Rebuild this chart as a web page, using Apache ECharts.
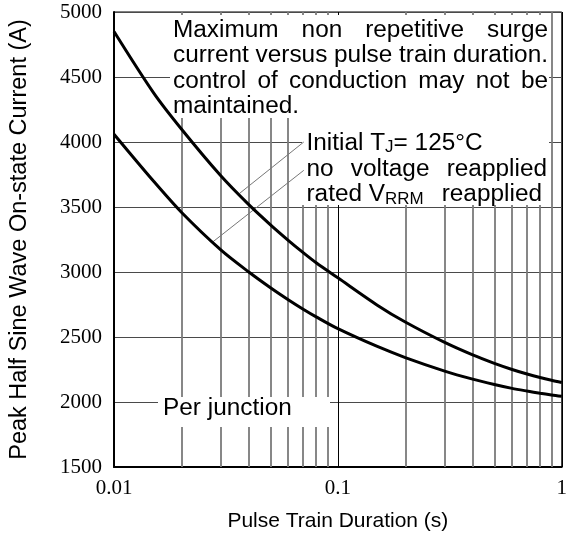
<!DOCTYPE html>
<html>
<head>
<meta charset="utf-8">
<script src="https://cdn.jsdelivr.net/npm/echarts@6/dist/echarts.min.js"></script>
<style>
  html, body { margin: 0; padding: 0; background: #fff; }
  #chart { width: 570px; height: 538px; }
</style>
</head>
<body>
<div id="chart"></div>
<script>
// ---------- data ----------
const durations = [0.01, 0.015, 0.02, 0.03, 0.04, 0.05, 0.06, 0.07, 0.08, 0.1, 0.15, 0.2, 0.3, 0.4, 0.5, 0.6, 0.7, 0.8, 0.9, 1];
const noVoltageReapplied = [4850, 4380, 4100, 3740, 3518, 3363, 3244, 3149, 3071, 2955, 2745, 2615, 2458, 2362, 2297, 2250, 2215, 2188, 2167, 2150];
const ratedVrrmReapplied = [4060, 3700, 3460, 3170, 3000, 2879, 2787, 2714, 2655, 2564, 2427, 2342, 2238, 2176, 2135, 2105, 2084, 2067, 2054, 2044];

const xTickValues = [0.01, 0.1, 1];
const xTickLabels = ['0.01', '0.1', '1'];
const xMinorGrid = [0.02, 0.03, 0.04, 0.05, 0.06, 0.07, 0.08, 0.09, 0.2, 0.3, 0.4, 0.5, 0.6, 0.7, 0.8, 0.9];
const yMin = 1500, yMax = 5000, yStep = 500;

// leader lines from the legend text to the curves
const leaderNoVoltage = [[0.0704, 4000], [0.0364, 3605]];
const leaderRated = [[0.0704, 3782], [0.0277, 3233]];

const xAxisTitle = 'Pulse Train Duration (s)';
const yAxisTitle = 'Peak Half Sine Wave On-state Current (A)';
const note1 = [
  ['Maximum', 'non', 'repetitive', 'surge'],
  ['current', 'versus', 'pulse', 'train', 'duration.'],
  ['control', 'of', 'conduction', 'may', 'not', 'be'],
  ['maintained.']
];
const perJunction = 'Per junction';

// ---------- helpers ----------
const SANS = '"Liberation Sans", Arial, sans-serif';
const SERIF = '"Liberation Serif", "Times New Roman", serif';
const FS = 23, SX = 1.06;
const mctx = document.createElement('canvas').getContext('2d');
function measure(t, fs) { mctx.font = fs + 'px ' + SANS; return mctx.measureText(t).width * SX; }
function textEl(t, x, baseline, fs) {
  return {
    type: 'text', x: x, y: baseline - 0.35 * fs, scaleX: SX, z: 22,
    style: { text: t, font: fs + 'px ' + SANS, fill: '#000', textAlign: 'left', textVerticalAlign: 'middle' }
  };
}
function justified(words, x0, x1, baseline, fs) {
  const ws = words.map(t => measure(t, fs));
  const total = ws.reduce((a, b) => a + b, 0);
  const gap = words.length > 1 ? (x1 - x0 - total) / (words.length - 1) : 0;
  let x = x0; const els = [];
  words.forEach((t, i) => { els.push(textEl(t, x, baseline, fs)); x += ws[i] + gap; });
  return els;
}
function rect(x, y, w, h) {
  return { type: 'rect', shape: { x: x, y: y, width: w, height: h }, z: 20, style: { fill: '#fff' } };
}

const graphics = [];
graphics.push(rect(170, 15, 379, 103));
graphics.push(rect(302, 118, 247, 87));
graphics.push(rect(158, 397, 172, 30));

// note 1 (justified block)
const nb = [38.5, 64, 89.5, 115];
graphics.push(...justified(note1[0], 173, 548, nb[0], FS));
graphics.push(...justified(note1[1], 173, 548, nb[1], FS));
graphics.push(...justified(note1[2], 173, 548, nb[2], FS));
graphics.push(textEl(note1[3][0], 173, nb[3], FS));

// note 2 (legend)
const x2 = 306.5, SUB = 16;
let xx = x2;
graphics.push(textEl('Initial T', xx, 151.7, FS)); xx += measure('Initial T', FS);
graphics.push(textEl('J', xx, 153.5, SUB)); xx += measure('J', SUB);
graphics.push(textEl('= 125°C', xx, 151.7, FS));
graphics.push(...justified(['no', 'voltage', 'reapplied'], x2, 547, 178, FS));
xx = x2;
graphics.push(textEl('rated', xx, 203, FS));
xx += measure('rated ', FS);
graphics.push(textEl('V', xx, 203, FS)); xx += measure('V', FS);
graphics.push(textEl('RRM', xx, 205, SUB));
graphics.push(textEl('reapplied', 542 - measure('reapplied', FS), 203, FS));

graphics.push(textEl(perJunction, 163, 416.7, FS));

// ---------- chart ----------
const chart = echarts.init(document.getElementById('chart'), null, { renderer: 'canvas' });
const toPairs = (xs, ys) => xs.map((x, i) => [x, ys[i]]);

const option = {
  animation: false,
  backgroundColor: '#fff',
  grid: { left: 112, top: 12, width: 450, height: 455, show: true, borderColor: '#000', borderWidth: 1, backgroundColor: 'transparent' },
  xAxis: {
    type: 'log', logBase: 10, min: 0.01, max: 1,
    name: xAxisTitle, nameLocation: 'middle', nameGap: 44,
    nameTextStyle: { fontFamily: SANS, fontSize: 21, color: '#000' },
    axisLine: { show: true, lineStyle: { color: '#000', width: 2 } },
    axisTick: { show: false },
    axisLabel: {
      margin: 11, fontFamily: SERIF, fontSize: 21, color: '#000',
      formatter: v => { const i = xTickValues.findIndex(t => Math.abs(Math.log10(t) - Math.log10(v)) < 1e-6); return i >= 0 ? xTickLabels[i] : ''; }
    },
    splitLine: { show: true, lineStyle: { color: '#000', width: 1 } }
  },
  yAxis: {
    type: 'value', min: yMin, max: yMax, interval: yStep,
    name: yAxisTitle, nameLocation: 'middle', nameGap: 82,
    nameTextStyle: { fontFamily: SANS, fontSize: 23.5, color: '#000' },
    axisLine: { show: true, lineStyle: { color: '#000', width: 2 } },
    axisTick: { show: false },
    axisLabel: { margin: 12, fontFamily: SERIF, fontSize: 21, color: '#000', formatter: v => String(v) },
    splitLine: { show: true, lineStyle: { color: '#4a4a4a', width: 1 } }
  },
  graphic: graphics,
  series: [
    {
      name: 'minor grid', type: 'line', data: [], silent: true, z: 1,
      markLine: {
        silent: true, symbol: ['none', 'none'], label: { show: false }, z: 1,
        lineStyle: { color: '#7a7a7a', width: 1.8, type: 'solid' },
        data: xMinorGrid.map(v => ({ xAxis: v }))
      }
    },
    {
      name: 'no voltage reapplied', type: 'line', data: toPairs(durations, noVoltageReapplied),
      smooth: 0.3, showSymbol: false, z: 30,
      lineStyle: { color: '#000', width: 3 }
    },
    {
      name: 'rated VRRM reapplied', type: 'line', data: toPairs(durations, ratedVrrmReapplied),
      smooth: 0.3, showSymbol: false, z: 30,
      lineStyle: { color: '#000', width: 3 }
    },
    {
      name: 'leader 1', type: 'line', data: leaderNoVoltage, showSymbol: false, z: 25,
      lineStyle: { color: '#777', width: 1 }
    },
    {
      name: 'leader 2', type: 'line', data: leaderRated, showSymbol: false, z: 25,
      lineStyle: { color: '#777', width: 1 }
    }
  ]
};
chart.setOption(option);
</script>
</body>
</html>
